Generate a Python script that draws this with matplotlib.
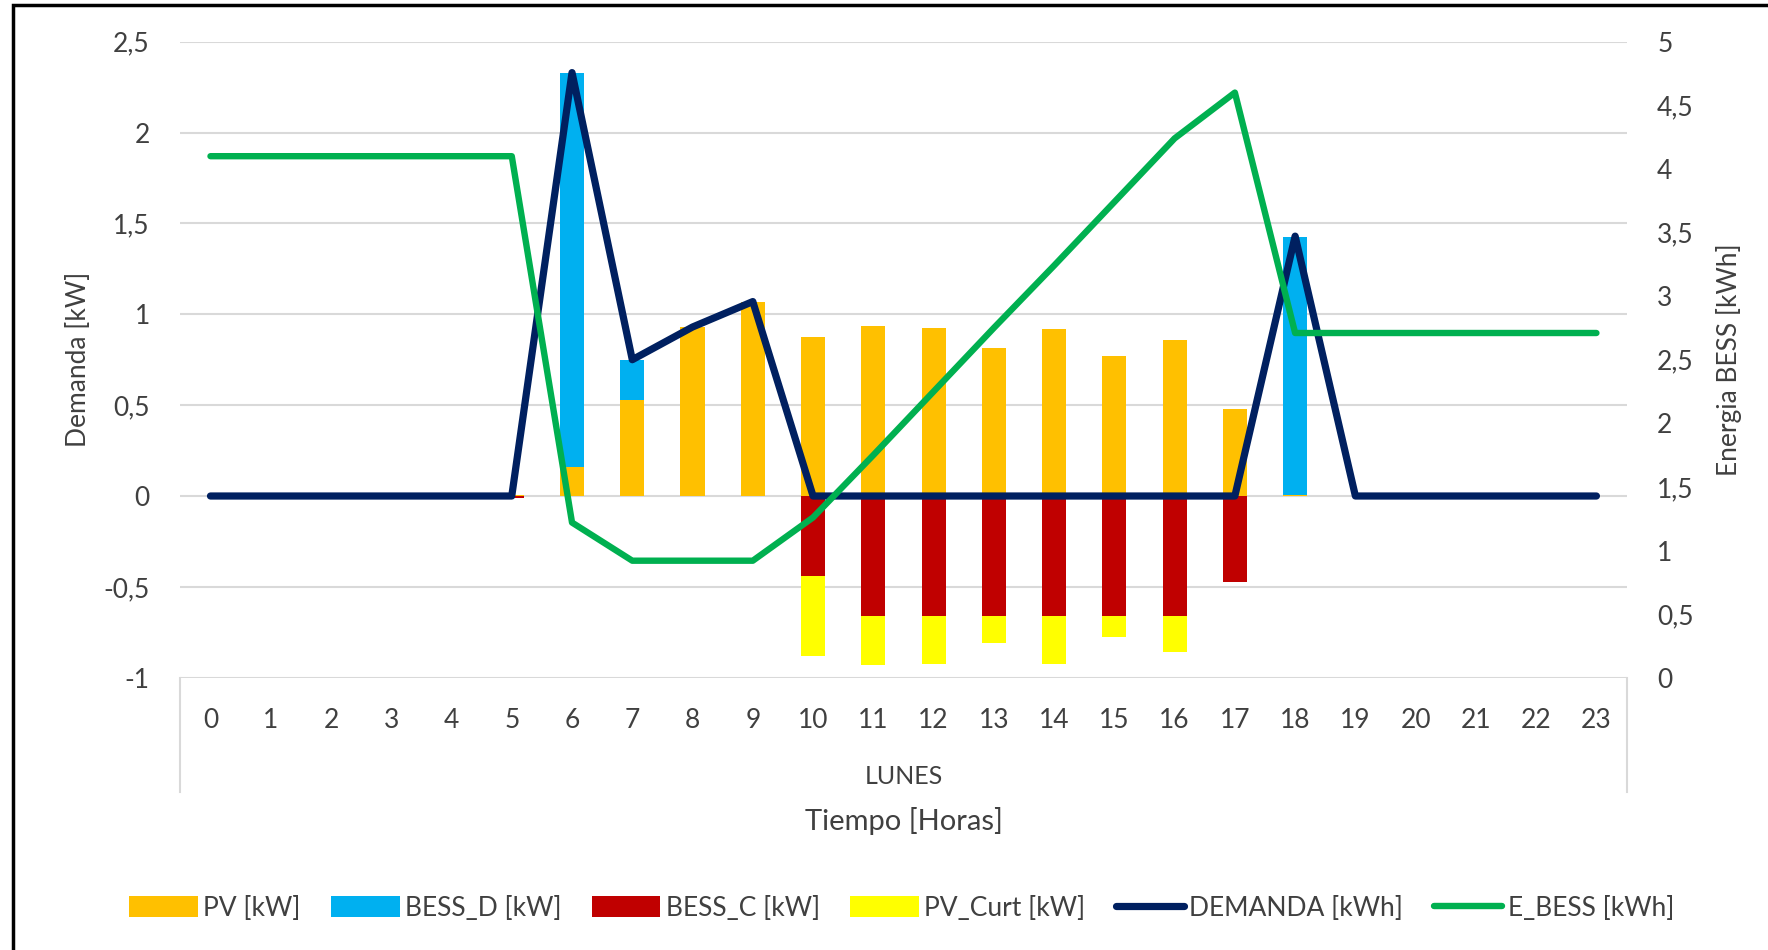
import matplotlib.pyplot as plt
import numpy as np
from matplotlib.lines import Line2D
from matplotlib.patches import Rectangle
from matplotlib.ticker import FuncFormatter, MultipleLocator

plt.rcParams['font.family'] = ['Lato', 'DejaVu Sans']

# Horas del día (lunes)
horas = list(range(24))

# Potencias [kW]
pv = [0, 0, 0, 0, 0, 0.005, 0.16, 0.53, 0.93, 1.07, 0.875, 0.935, 0.925, 0.815,
      0.92, 0.77, 0.86, 0.48, 0.005, 0, 0, 0, 0, 0]
bess_d = [0, 0, 0, 0, 0, 0, 2.17, 0.22, 0, 0, 0, 0, 0, 0,
          0, 0, 0, 0, 1.42, 0, 0, 0, 0, 0]
bess_c = [0, 0, 0, 0, 0, -0.01, 0, 0, 0, 0, -0.44, -0.66, -0.66, -0.66,
          -0.66, -0.66, -0.66, -0.475, 0, 0, 0, 0, 0, 0]
pv_curt = [0, 0, 0, 0, 0, 0, 0, 0, 0, 0, -0.44, -0.27, -0.265, -0.15,
           -0.265, -0.115, -0.2, 0, 0, 0, 0, 0, 0, 0]
demanda = [0, 0, 0, 0, 0, 0, 2.33, 0.75, 0.93, 1.07, 0, 0, 0, 0,
           0, 0, 0, 0, 1.43, 0, 0, 0, 0, 0]

# Energía almacenada [kWh]
e_bess = [4.1, 4.1, 4.1, 4.1, 4.1, 4.1, 1.22, 0.92, 0.92, 0.92, 1.26, 1.75,
          2.25, 2.75, 3.24, 3.74, 4.24, 4.6, 2.71, 2.71, 2.71, 2.71, 2.71, 2.71]

c_pv = '#FFC000'
c_bd = '#00B0F0'
c_bc = '#C00000'
c_cu = '#FFFF00'
c_dem = '#002060'
c_e = '#00B050'
c_txt = '#404040'
c_grid = '#D9D9D9'

fig = plt.figure(figsize=(17.68, 9.5), dpi=100)
ax = fig.add_axes([0.102, 0.2866, 0.818, 0.6695])

x = np.array(horas)
w = 0.4
b1 = ax.bar(x, pv, w, color=c_pv, label='PV [kW]', zorder=2)
b2 = ax.bar(x, bess_d, w, bottom=pv, color=c_bd, label='BESS_D [kW]', zorder=2)
b3 = ax.bar(x, bess_c, w, color=c_bc, label='BESS_C [kW]', zorder=2)
b4 = ax.bar(x, pv_curt, w, bottom=bess_c, color=c_cu, label='PV_Curt [kW]', zorder=2)
l1, = ax.plot(x, demanda, color=c_dem, lw=5.2, solid_capstyle='round',
              solid_joinstyle='round', label='DEMANDA [kWh]', zorder=3)

ax.set_xlim(-0.5, 23.5)
ax.set_ylim(-1, 2.5)
ax.yaxis.set_major_locator(MultipleLocator(0.5))
ax.set_xticks(x)
ax.grid(axis='y', color=c_grid, lw=1.5, zorder=0)
for s in ax.spines.values():
    s.set_visible(False)

coma = FuncFormatter(lambda v, p: f'{v:g}'.replace('.', ','))
ax.yaxis.set_major_formatter(coma)
ax.tick_params(axis='both', length=0, labelsize=19, colors=c_txt)
ax.tick_params(axis='y', pad=22)
ax.tick_params(axis='x', pad=22)
ax.set_ylabel('Demanda [kW]', fontsize=19, color=c_txt, labelpad=9)

# Eje secundario para la energía de la batería
ax2 = ax.twinx()
l2, = ax2.plot(x, e_bess, color=c_e, lw=4.6, solid_capstyle='round',
               solid_joinstyle='round', label='E_BESS [kWh]', zorder=3)
ax2.set_ylim(0, 5)
ax2.yaxis.set_major_locator(MultipleLocator(0.5))
ax2.yaxis.set_major_formatter(coma)
ax2.tick_params(axis='y', length=0, labelsize=19, colors=c_txt, pad=22)
ax2.set_ylabel('Energia BESS [kWh]', fontsize=19, color=c_txt, labelpad=16)
for s in ax2.spines.values():
    s.set_visible(False)

# Caja del eje de categorías
for xa in (0, 1):
    ax.add_line(Line2D([xa, xa], [0, -0.18], transform=ax.transAxes,
                       color=c_grid, lw=1.5, clip_on=False))
ax.text(0.5, -0.155, 'LUNES', transform=ax.transAxes, ha='center',
        va='center', fontsize=18, color=c_txt)
ax.text(0.5, -0.226, 'Tiempo [Horas]', transform=ax.transAxes, ha='center',
        va='center', fontsize=21, color=c_txt)

handles = [b1, b2, b3, b4, l1, l2]
leg = fig.legend(handles, [h.get_label() for h in handles], loc='center',
                 bbox_to_anchor=(0.51, 0.044), ncol=6, frameon=False,
                 fontsize=19, handlelength=2.6, handleheight=0.8,
                 handletextpad=0.2, columnspacing=1.15)
for t in leg.get_texts():
    t.set_color(c_txt)

# Marco exterior
fig.add_artist(Rectangle((0.0075, -0.05), 1.1, 1.045, transform=fig.transFigure,
                         fill=False, ec='black', lw=2.5))

fig.savefig('out.png', dpi=100)
